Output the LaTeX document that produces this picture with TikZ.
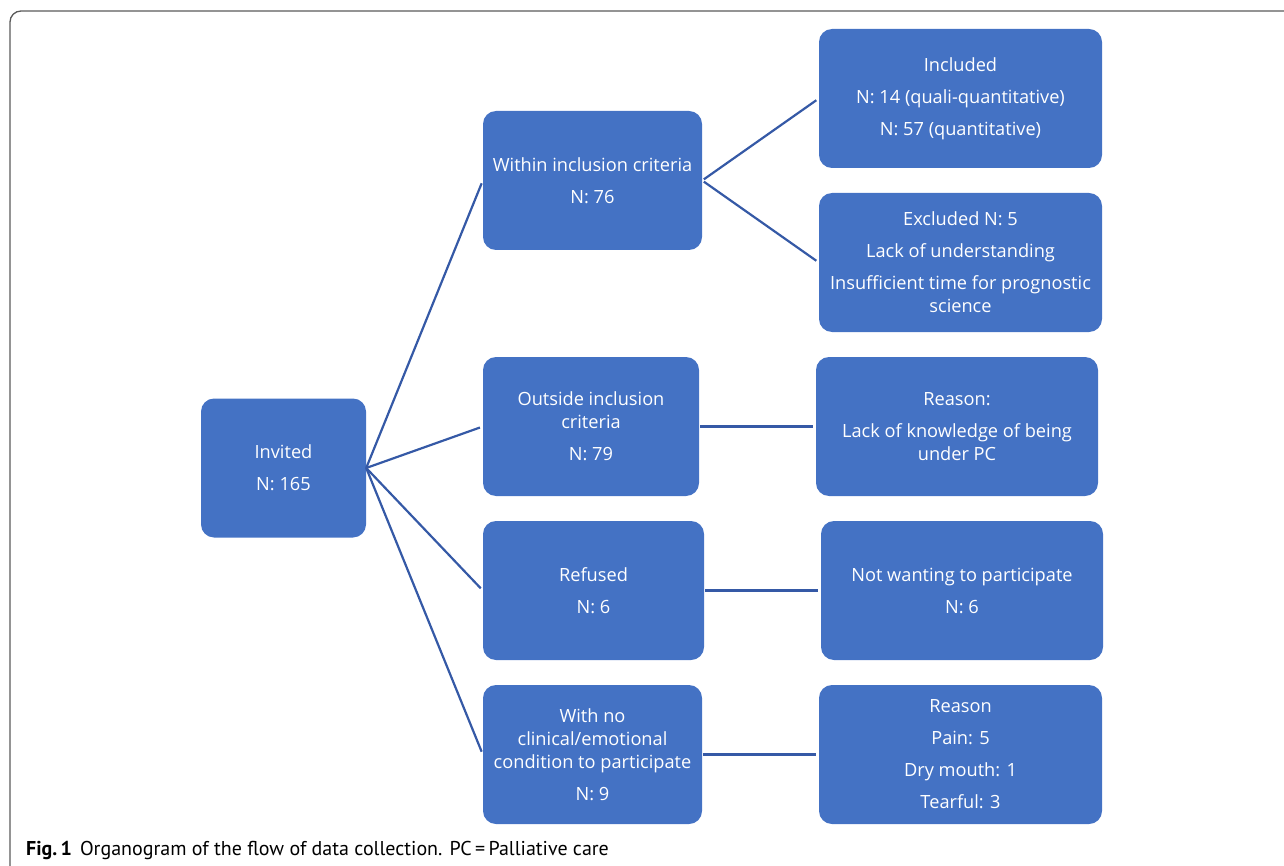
\documentclass[tikz,border=0pt]{standalone}
\usepackage{fontspec}
\setmainfont{Open Sans}
\newfontfamily\capfont{PT Sans}
\definecolor{boxblue}{HTML}{4472C4}
\definecolor{lineblue}{HTML}{3559A6}
\definecolor{framegray}{HTML}{5A5A5A}
\begin{document}
\begin{tikzpicture}[x=1pt,y=-1pt,
  box/.style={fill=boxblue, draw=none, rounded corners=13pt, text=white,
    align=center, inner sep=0pt, minimum height=139pt,
    font=\fontsize{18.2}{23}\selectfont},
  link/.style={draw=lineblue, line width=2.2pt, shorten >=3pt}]
\useasboundingbox (0,0) rectangle (1284,866);
\draw[framegray, line width=1.3pt, rounded corners=11pt] (1310,11) -- (10,11) -- (10,880);
% nodes
\node[box, minimum width=165pt] (inv) at (283.5,468) {Invited\\[9pt]N: 165};
\node[box, minimum width=219pt] (win) at (592.5,180.5) {Within inclusion criteria\\[9pt]N: 76};
\node[box, minimum width=283pt] (inc) at (960.5,98.5) {Included\\[9pt]N: 14 (quali-quantitative)\\[9pt]N: 57 (quantitative)};
\node[box, minimum width=283pt] (exc) at (960.5,262.5) {Excluded N: 5\\[9pt]Lack of understanding\\[9pt]Insufficient time for prognostic\\science};
\node[box, minimum width=216pt] (out) at (591,426.5) {Outside inclusion\\criteria\\[9pt]N: 79};
\node[box, minimum width=282pt] (rea) at (957,426.5) {Reason:\\[9pt]Lack of knowledge of being\\under PC};
\node[box, minimum width=221pt] (ref) at (593.5,590.5) {Refused\\[9pt]N: 6};
\node[box, minimum width=282pt] (notw) at (962,590.5) {Not wanting to participate\\[9pt]N: 6};
\node[box, minimum width=219pt] (wno) at (592.5,754.5) {With no\\clinical/emotional\\condition to participate\\[9pt]N: 9};
\node[box, minimum width=283pt] (rea2) at (960.5,754.5) {Reason\\[9pt]Pain: 5\\[9pt]Dry mouth: 1\\[9pt]Tearful: 3};
% connectors
\draw[link] (inv.east) -- (win.west);
\draw[link] (inv.east) -- (out.west);
\draw[link] (inv.east) -- (ref.west);
\draw[link] (inv.east) -- (wno.west);
\draw[link, shorten <=2pt] (win.east) -- (inc.west);
\draw[link, shorten <=2pt] (win.east) -- (exc.west);
\draw[link, shorten <=1pt] (out.east) -- (rea.west);
\draw[link, shorten <=1pt] (ref.east) -- (notw.west);
\draw[link, shorten <=1pt] (wno.east) -- (rea2.west);
% caption
\node[anchor=west, inner sep=0pt, font=\capfont\fontsize{20}{24}\selectfont] (cap) at (26,850)
  {\textbf{Fig.\,1}\hspace{8pt}Organogram of the flow of data collection. PC\,=\,Palliative care};
\end{tikzpicture}
\end{document}
